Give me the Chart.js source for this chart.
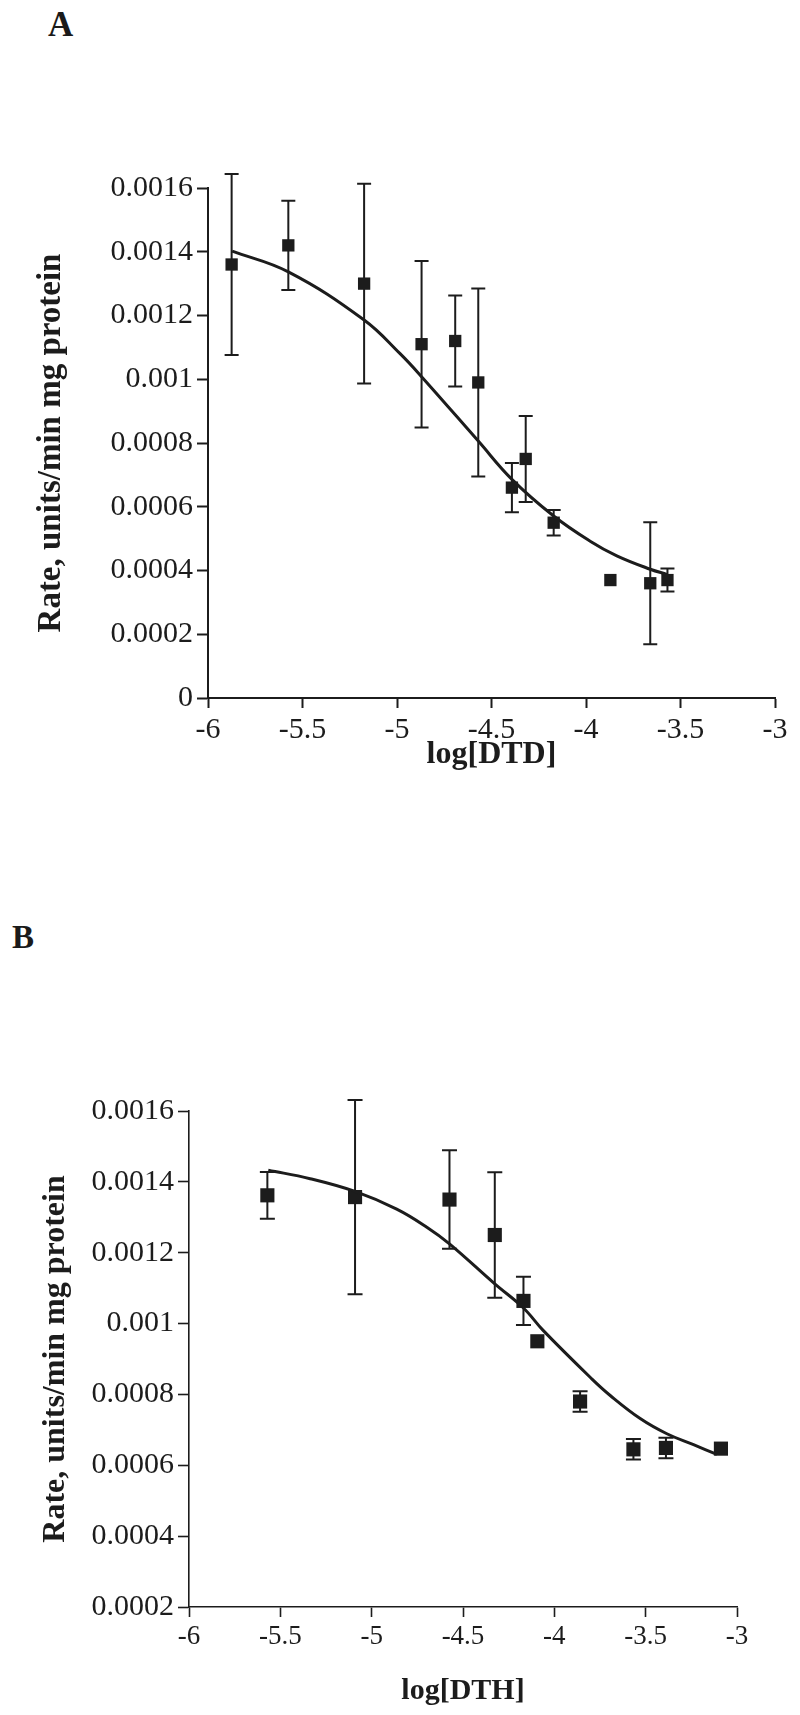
<!DOCTYPE html>
<html>
<head>
<meta charset="utf-8">
<script src="https://cdn.jsdelivr.net/npm/chart.js@4.4.0/dist/chart.umd.min.js"></script>
<style>
  html, body { margin: 0; padding: 0; background: #fff; }
  body { width: 800px; height: 1715px; position: relative; overflow: hidden; font-family: "Liberation Serif", "Times New Roman", serif; }
  .panel-label { position: absolute; font-weight: bold; color: #1a1a1a; line-height: 1; }
  #wrapA { position: absolute; left: 0; top: 0; width: 800px; height: 800px; }
  #wrapB { position: absolute; left: 0; top: 800px; width: 800px; height: 915px; }
</style>
</head>
<body>
<div class="panel-label" style="left:48px;top:7px;font-size:35px;">A</div>
<div class="panel-label" style="left:12px;top:921px;font-size:33px;">B</div>
<div id="wrapA"><canvas id="chartA"></canvas></div>
<div id="wrapB"><canvas id="chartB"></canvas></div>

<script>
/* ===============================
   DATA - panel A (DTD)
================================= */
const dtdX     = [-5.875, -5.575, -5.174, -4.870, -4.692, -4.570, -4.392, -4.319, -4.171, -3.871, -3.660, -3.569];
const dtdRate  = [0.00136, 0.00142, 0.00130, 0.00111, 0.00112, 0.00099, 0.00066, 0.00075, 0.00055, 0.00037, 0.00036, 0.00037];
const dtdError = [0.000284, 0.00014, 0.000313, 0.000261, 0.000143, 0.000295, 0.000077, 0.000135, 0.00004, 0, 0.000191, 0.000036];

// fitted curve
const dtdFitX = [-5.872, -5.575, -5.174, -4.985, -4.870, -4.570, -4.392, -4.171, -3.978, -3.837, -3.660, -3.572];
const dtdFitY = [0.001402, 0.001337, 0.001186, 0.001081, 0.001008, 0.000806, 0.000686, 0.000571, 0.000492, 0.000446, 0.000404, 0.000388];

/* ===============================
   DATA - panel B (DTH)
================================= */
const dthX     = [-5.571, -5.091, -4.574, -4.326, -4.169, -4.093, -3.859, -3.567, -3.389, -3.088];
const dthRate  = [0.001362, 0.001357, 0.00135, 0.00125, 0.001064, 0.00095, 0.00078, 0.000645, 0.000649, 0.000647];
const dthError = [0.000066, 0.000274, 0.000139, 0.000177, 0.000068, 0, 0.000029, 0.000029, 0.000029, 0];

const dthFitX = [-5.566, -5.337, -5.091, -4.863, -4.698, -4.574, -4.326, -4.169, -4.060, -3.795, -3.694, -3.530, -3.384, -3.238, -3.110];
const dthFitY = [0.001433, 0.001409, 0.001373, 0.001323, 0.001272, 0.001225, 0.001112, 0.001044, 0.000980, 0.000844, 0.000797, 0.000732, 0.000689, 0.000658, 0.000631];

/* ===============================
   SHARED STYLE
================================= */
const serif = "'Liberation Serif', 'Times New Roman', serif";
const ink = '#1c1c1c';

const pairs = (xs, ys) => xs.map((x, i) => ({ x: x, y: ys[i] }));
const fmtRate = v => (v === 0 ? '0' : String(parseFloat(v.toFixed(4))));

/* error bars drawn through the chart scales */
const errorBars = {
    id: 'errorBars',
    beforeDatasetsDraw(chart, args, opts) {
        const { ctx, scales: { x, y } } = chart;
        chart.data.datasets.forEach(ds => {
            if (!ds.errors) return;
            ctx.save();
            ctx.strokeStyle = ink;
            ctx.lineWidth = opts.width || 2;
            const cap = opts.cap || 7;
            ds.data.forEach((p, j) => {
                const e = ds.errors[j];
                if (!e) return;
                const px = x.getPixelForValue(p.x);
                const top = y.getPixelForValue(p.y + e);
                const bot = y.getPixelForValue(p.y - e);
                ctx.beginPath();
                ctx.moveTo(px, top); ctx.lineTo(px, bot);
                ctx.moveTo(px - cap, top); ctx.lineTo(px + cap, top);
                ctx.moveTo(px - cap, bot); ctx.lineTo(px + cap, bot);
                ctx.stroke();
            });
            ctx.restore();
        });
    }
};

function buildChart(id, o) {
    return new Chart(document.getElementById(id), {
        type: 'scatter',
        data: {
            datasets: [
                {
                    data: pairs(o.fitX, o.fitY),
                    showLine: true,
                    borderColor: ink,
                    borderWidth: 3,
                    pointRadius: 0,
                    tension: 0.4,
                    fill: false
                },
                {
                    data: pairs(o.x, o.rate),
                    errors: o.err,
                    pointStyle: 'rect',
                    pointRadius: o.markR,
                    backgroundColor: ink,
                    borderColor: ink,
                    borderWidth: 0,
                    clip: false
                }
            ]
        },
        options: {
            responsive: true,
            maintainAspectRatio: false,
            animation: false,
            layout: { padding: o.pad },
            plugins: {
                legend: { display: false },
                tooltip: { enabled: false },
                errorBars: { width: 2, cap: o.cap }
            },
            scales: {
                x: {
                    type: 'linear',
                    position: 'bottom',
                    min: -6, max: -3,
                    afterFit: s => { s.height = o.xH; },
                    border: { color: ink, width: o.axisW },
                    grid: { drawOnChartArea: false, drawTicks: true, tickLength: 10, tickWidth: o.axisW, tickColor: ink },
                    ticks: {
                        stepSize: 0.5, autoSkip: false, maxRotation: 0,
                        padding: o.xTickPad, color: ink,
                        font: { family: serif, size: o.xTickSize },
                        callback: v => String(v)
                    },
                    title: {
                        display: true, text: o.xTitle, color: ink,
                        font: { family: serif, size: o.xTitleSize, weight: 'bold' },
                        padding: { top: 0, bottom: o.xTitlePad }
                    }
                },
                y: {
                    type: 'linear',
                    min: o.yMin, max: 0.0016,
                    afterFit: s => { s.width = o.yW; },
                    border: { color: ink, width: o.axisW },
                    grid: { drawOnChartArea: false, drawTicks: true, tickLength: 11, tickWidth: o.axisW, tickColor: ink },
                    ticks: {
                        stepSize: 0.0002, padding: 4, color: ink,
                        font: { family: serif, size: 30 },
                        callback: v => fmtRate(v)
                    },
                    title: {
                        display: true, text: 'Rate, units/min mg protein', color: ink,
                        font: { family: serif, size: o.yTitleSize, weight: 'bold' },
                        padding: { top: o.yTitlePad, bottom: 0 }
                    }
                }
            }
        },
        plugins: [errorBars]
    });
}

/* ===============================
   INIT
================================= */
buildChart('chartA', {
    x: dtdX, rate: dtdRate, err: dtdError, fitX: dtdFitX, fitY: dtdFitY,
    xTitle: 'log[DTD]', yMin: 0,
    pad: { left: 0, top: 188, right: 25, bottom: 0 },
    xH: 102, yW: 208, axisW: 2,
    xTickSize: 30, xTickPad: 4, xTitleSize: 32, xTitlePad: 26,
    yTitleSize: 33, yTitlePad: 32,
    markR: 8.7, cap: 7
});

buildChart('chartB', {
    x: dthX, rate: dthRate, err: dthError, fitX: dthFitX, fitY: dthFitY,
    xTitle: 'log[DTH]', yMin: 0.0002,
    pad: { left: 0, top: 311, right: 63, bottom: 0 },
    xH: 108, yW: 189, axisW: 1.6,
    xTickSize: 27, xTickPad: 4, xTitleSize: 30, xTitlePad: 6,
    yTitleSize: 32, yTitlePad: 37,
    markR: 10, cap: 7.5
});
</script>
</body>
</html>
